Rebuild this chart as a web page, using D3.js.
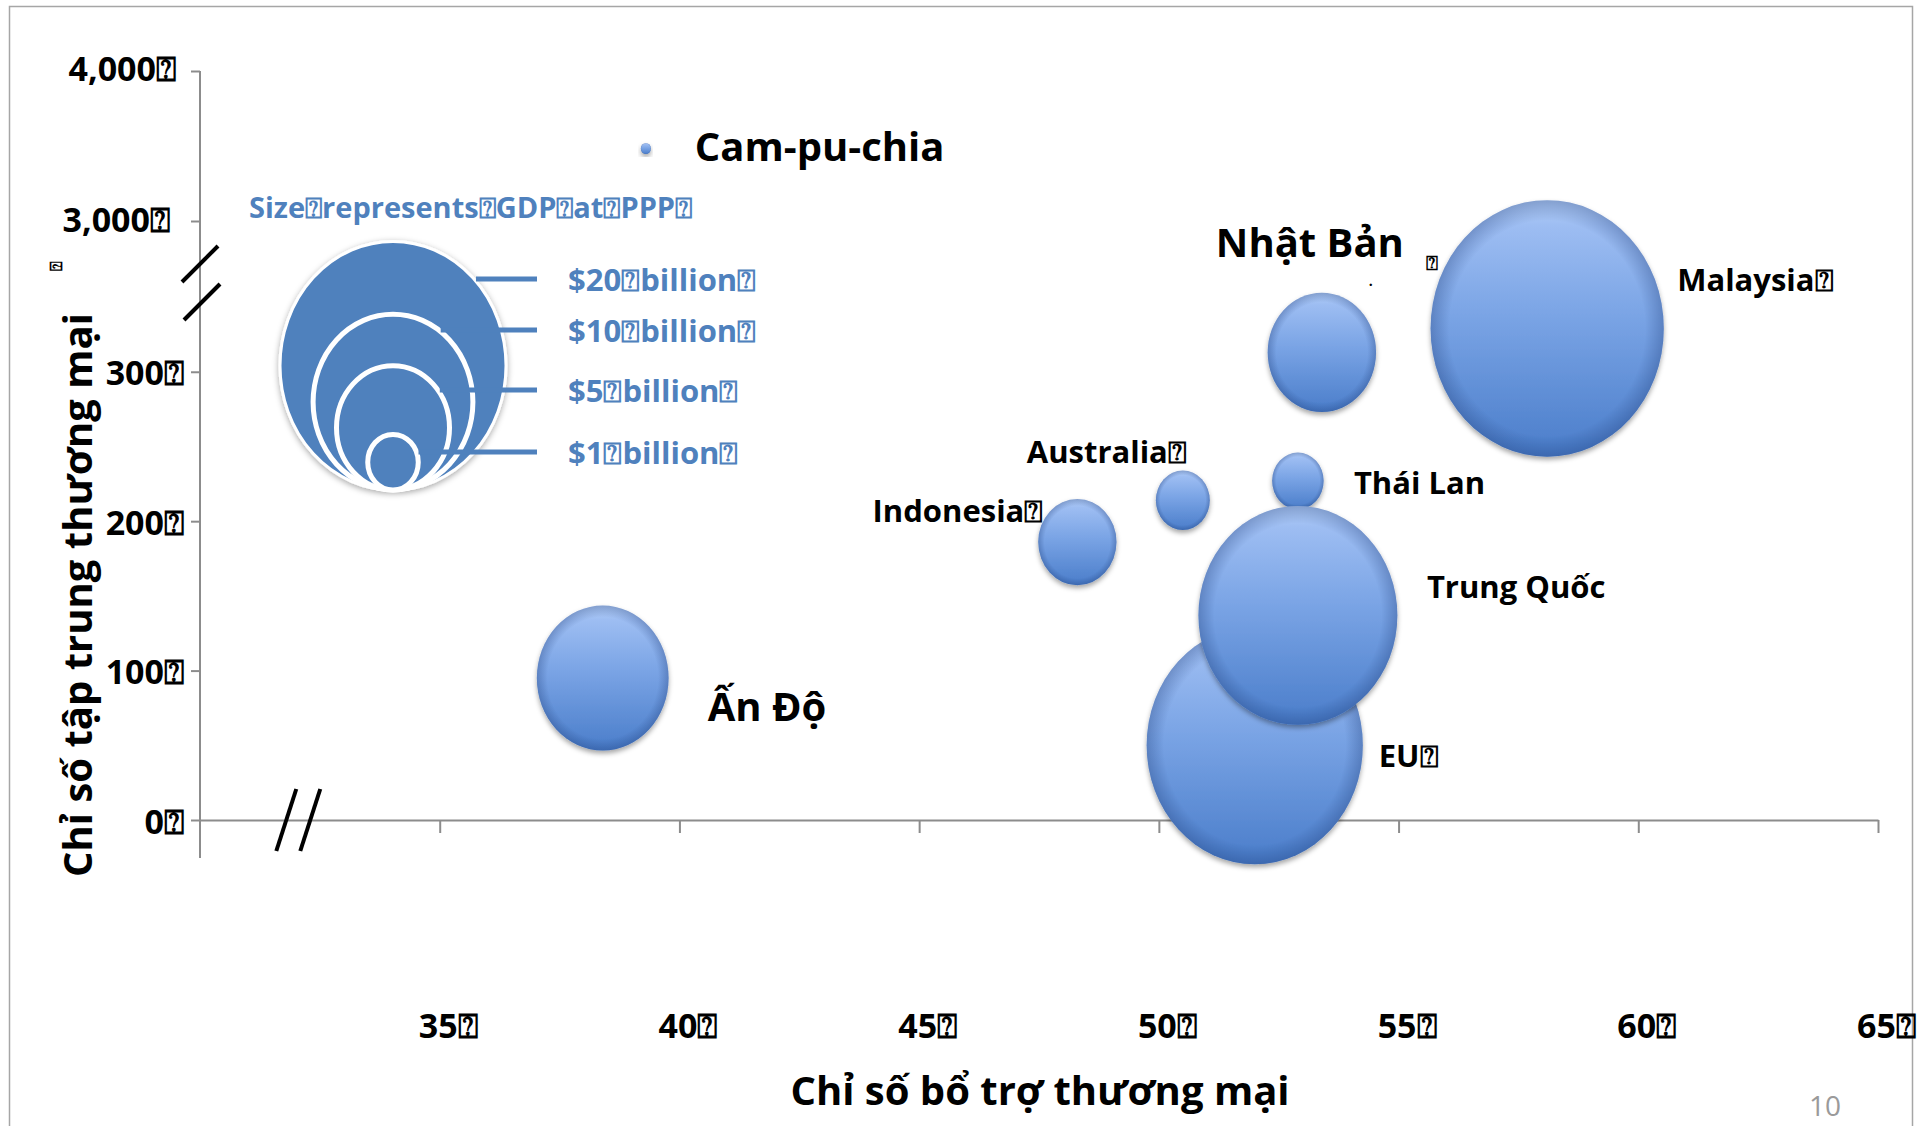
<!DOCTYPE html>
<html>
<head>
<meta charset="utf-8">
<script src="https://cdn.jsdelivr.net/npm/d3@7"></script>
<style>
  html, body { margin: 0; padding: 0; background: #ffffff; }
  svg { display: block; }
  text { font-family: 'Open Sans', 'DejaVu Sans', sans-serif; }
</style>
</head>
<body>
<svg id="chart" width="1925" height="1126"></svg>
<script>
// Placeholder glyph that the slide's text boxes carry in place of spaces
const BOX = "\u2370";

// ---- data ----
const countries       = ["Malaysia", "Nhật Bản", "Thái Lan", "Australia", "Indonesia", "Ấn Độ", "EU", "Trung Quốc", "Cam-pu-chia"];
const countryLabels   = ["Malaysia" + BOX, "Nhật Bản", "Thái Lan", "Australia" + BOX, "Indonesia" + BOX, "Ấn Độ", "EU" + BOX, "Trung Quốc", "Cam-pu-chia"];
const complementarity = [58.1, 53.4, 52.9, 50.5, 48.3, 38.4, 52.0, 52.9, 39.3];   // Chỉ số bổ trợ thương mại
const concentration   = [329, 313, 227, 214, 186, 95, 50, 137, 3483];           // Chỉ số tập trung thương mại
const gdpPPP          = [21.3, 4.6, 1.04, 1.14, 2.4, 6.8, 18.3, 15.5, 0.04];     // bubble size, $ billion

const xTicks = [35, 40, 45, 50, 55, 60, 65];
const yTicks = [0, 100, 200, 300, 3000, 4000];

const legendSizes  = [20, 10, 5, 1];
const legendLabels = ["$20" + BOX + "billion" + BOX, "$10" + BOX + "billion" + BOX, "$5" + BOX + "billion" + BOX, "$1" + BOX + "billion" + BOX];
const legendTitle  = "Size" + BOX + "represents" + BOX + "GDP" + BOX + "at" + BOX + "PPP" + BOX;

const xTitle = "Chỉ số bổ trợ thương mại";
const yTitle = "Chỉ số tập trung thương mại";
const pageNumber = "10";

// ---- layout ----
const labelLayout = {
  "Malaysia":    { dx: 130,  dy: -49,  anchor: "start", size: 31 },
  "Nhật Bản":    { dx: -106, dy: -111, anchor: "start", size: 40 },
  "Thái Lan":    { dx: 56,   dy: 1,    anchor: "start", size: 31 },
  "Australia":   { dx: 4,    dy: -49,  anchor: "end",   size: 31 },
  "Indonesia":   { dx: -34,  dy: -32,  anchor: "end",   size: 31 },
  "Ấn Độ":       { dx: 105,  dy: 27,   anchor: "start", size: 40 },
  "EU":          { dx: 124,  dy: 10,   anchor: "start", size: 31 },
  "Trung Quốc":  { dx: 129,  dy: -29,  anchor: "start", size: 31 },
  "Cam-pu-chia": { dx: 49,   dy: -3,   anchor: "start", size: 40 }
};
// tick-label nudges for the upper (post-break) segment of the value axis
const yLabelShift = { 3000: { x: -30, y: -3 }, 4000: { x: -24, y: -4 } };
const ASPECT = 1.1;          // bubbles are drawn slightly taller than wide
const BLUE = "#4F81BD";

const svg = d3.select("#chart");

// ---- scales ----
const x = d3.scaleLinear().domain([30, 65]).range([200, 1878]);
// broken value axis: lower segment 0–340, gap, upper segment 2900–4000
const y = d3.scaleLinear().domain([0, 340, 2900, 4000]).range([820, 312, 236, 71]);
const r = d3.scaleSqrt().domain([0, 20]).range([0, 113]);

// ---- defs: bubble shading and shadows ----
const defs = svg.append("defs");
const lg = defs.append("linearGradient").attr("id", "bubbleFill")
  .attr("x1", 0).attr("y1", 0).attr("x2", 0).attr("y2", 1);
[["0%", "#b4cff8"], ["10%", "#9dbdf2"], ["45%", "#7aa4e5"], ["100%", "#4a7dca"]]
  .forEach(([o, c]) => lg.append("stop").attr("offset", o).attr("stop-color", c));
const rg = defs.append("radialGradient").attr("id", "bubbleRim")
  .attr("cx", 0.5).attr("cy", 0.5).attr("r", 0.5);
[["0%", "rgba(30,60,120,0)"], ["84%", "rgba(30,60,120,0)"], ["100%", "rgba(30,60,120,0.32)"]]
  .forEach(([o, c]) => rg.append("stop").attr("offset", o).attr("stop-color", c));
defs.append("filter").attr("id", "bubbleShadow")
  .attr("x", "-20%").attr("y", "-20%").attr("width", "140%").attr("height", "140%")
  .append("feDropShadow").attr("dx", 0).attr("dy", 3).attr("stdDeviation", 2.5)
  .attr("flood-color", "#000").attr("flood-opacity", 0.35);
defs.append("filter").attr("id", "legendShadow")
  .attr("x", "-20%").attr("y", "-20%").attr("width", "140%").attr("height", "140%")
  .append("feDropShadow").attr("dx", 0).attr("dy", 2).attr("stdDeviation", 3)
  .attr("flood-color", "#000").attr("flood-opacity", 0.35);

// ---- slide frame ----
svg.append("rect").attr("x", 9.5).attr("y", 6.5).attr("width", 1903).attr("height", 1200)
  .attr("fill", "none").attr("stroke", "#a6a6a6").attr("stroke-width", 1.5);

// ---- axes ----
const axisColor = "#8c8c8c";
const gx = svg.append("g").attr("transform", `translate(0,${y(0)})`)
  .call(d3.axisBottom(x).tickValues(xTicks).tickSize(13).tickSizeOuter(0).tickFormat(d => d + BOX));
gx.select(".domain").attr("stroke", axisColor).attr("stroke-width", 2);
gx.selectAll(".tick line").attr("stroke", axisColor).attr("stroke-width", 2);
gx.selectAll(".tick text")
  .attr("y", 205).attr("dy", null).attr("dx", 8)
  .attr("dominant-baseline", "central")
  .attr("fill", "#000").style("font-size", "34px").style("font-weight", 700)
  .style("font-family", "'Open Sans','DejaVu Sans',sans-serif");

const gy = svg.append("g").attr("transform", `translate(${x(30)},0)`)
  .call(d3.axisLeft(y).tickValues(yTicks).tickSize(9).tickSizeOuter(0).tickFormat(d => d3.format(",")(d) + BOX));
gy.select(".domain").remove();
gy.insert("line", ":first-child").attr("x1", 0).attr("x2", 0)
  .attr("y1", y(4000)).attr("y2", y(0) + 38)
  .attr("stroke", axisColor).attr("stroke-width", 2);
gy.selectAll(".tick line").attr("stroke", axisColor).attr("stroke-width", 2);
gy.selectAll(".tick text")
  .attr("x", d => yLabelShift[d] ? yLabelShift[d].x : -16)
  .attr("y", d => yLabelShift[d] ? yLabelShift[d].y : 0)
  .attr("dy", null)
  .attr("dominant-baseline", "central")
  .attr("fill", "#000").style("font-size", "34px").style("font-weight", 700)
  .style("font-family", "'Open Sans','DejaVu Sans',sans-serif");

// ---- axis break marks ----
const breakMarks = svg.append("g").attr("stroke", "#000").attr("stroke-width", 4).attr("stroke-linecap", "butt");
const yBreakMid = (y(340) + y(2900)) / 2;
[[-10, 0], [28, 2]].forEach(([dy, dx]) => {
  breakMarks.append("line")
    .attr("x1", x(30) - 18 + dx).attr("y1", yBreakMid + dy + 18)
    .attr("x2", x(30) + 18 + dx).attr("y2", yBreakMid + dy - 18);
});
[x(31.8), x(32.3)].forEach(cx => {
  breakMarks.append("line")
    .attr("x1", cx - 10).attr("y1", y(0) + 31)
    .attr("x2", cx + 10).attr("y2", y(0) - 31);
});

// ---- bubbles ----
const rows = countries.map((c, i) => ({
  name: c, label: countryLabels[i], x: complementarity[i], y: concentration[i], size: gdpPPP[i]
}));
const bubbles = svg.append("g");
const bubble = bubbles.selectAll("g").data(rows).join("g")
  .attr("transform", d => `translate(${x(d.x)},${y(d.y)})`);
bubble.append("ellipse")
  .attr("rx", d => r(d.size)).attr("ry", d => r(d.size) * ASPECT)
  .attr("fill", "url(#bubbleFill)").attr("filter", "url(#bubbleShadow)");
bubble.append("ellipse")
  .attr("rx", d => r(d.size)).attr("ry", d => r(d.size) * ASPECT)
  .attr("fill", "url(#bubbleRim)");

// ---- bubble labels ----
svg.append("g").selectAll("text").data(rows).join("text")
  .attr("x", d => x(d.x) + labelLayout[d.name].dx)
  .attr("y", d => y(d.y) + labelLayout[d.name].dy)
  .attr("text-anchor", d => labelLayout[d.name].anchor)
  .attr("dominant-baseline", "central")
  .style("font-size", d => labelLayout[d.name].size + "px")
  .style("font-weight", 700)
  .attr("fill", "#000")
  .text(d => d.label);

// stray marks next to the Nhật Bản label
const jp = rows.find(d => d.name === "Nhật Bản");
svg.append("text").attr("x", x(jp.x) + 49).attr("y", y(jp.y) - 66)
  .attr("text-anchor", "middle")
  .style("font-size", "14px").style("font-weight", 700).text(".");
svg.append("text").attr("x", x(jp.x) + 110).attr("y", y(jp.y) - 90)
  .attr("text-anchor", "middle").attr("dominant-baseline", "central")
  .style("font-size", "20px").style("font-weight", 700).text(BOX);

// ---- size legend ----
const leg = svg.append("g");
const legCx = 393, legBottom = 490, legLabelX = 568;
const legLabelY = [279, 330, 390, 452];
leg.append("text").attr("x", 249).attr("y", 206)
  .attr("dominant-baseline", "central")
  .style("font-size", "29px").style("font-weight", 700).attr("fill", BLUE)
  .text(legendTitle);
leg.selectAll("ellipse").data(legendSizes).join("ellipse")
  .attr("cx", legCx)
  .attr("cy", d => legBottom - r(d) * ASPECT)
  .attr("rx", d => r(d)).attr("ry", d => r(d) * ASPECT)
  .attr("fill", BLUE).attr("stroke", "#fff")
  .attr("stroke-width", (d, i) => i === 0 ? 3 : 5)
  .attr("filter", (d, i) => i === 0 ? "url(#legendShadow)" : null);
leg.selectAll("line").data(legendSizes).join("line")
  .attr("x1", (d, i) => {
    const rx = r(d), ry = rx * ASPECT, cy = legBottom - ry;
    const t = (legLabelY[i] - cy) / ry;
    return legCx + rx * Math.sqrt(Math.max(0, 1 - t * t)) + 2;
  })
  .attr("x2", legLabelX - 31)
  .attr("y1", (d, i) => legLabelY[i]).attr("y2", (d, i) => legLabelY[i])
  .attr("stroke", BLUE).attr("stroke-width", 5);
leg.selectAll("text.item").data(legendLabels).join("text").attr("class", "item")
  .attr("x", legLabelX).attr("y", (d, i) => legLabelY[i])
  .attr("dominant-baseline", "central")
  .style("font-size", "31px").style("font-weight", 700).attr("fill", BLUE)
  .text(d => d);

// ---- axis titles ----
svg.append("text").attr("x", 1040).attr("y", 1089)
  .attr("text-anchor", "middle").attr("dominant-baseline", "central")
  .style("font-size", "40px").style("font-weight", 700).text(xTitle);
svg.append("text").attr("transform", "translate(76,595) rotate(-90)")
  .attr("text-anchor", "middle").attr("dominant-baseline", "central")
  .style("font-size", "40px").style("font-weight", 700).text(yTitle);
svg.append("text").attr("transform", "translate(56,266) rotate(-90)")
  .attr("text-anchor", "middle").attr("dominant-baseline", "central")
  .style("font-size", "16px").style("font-weight", 700).text(BOX);

// ---- page number ----
svg.append("text").attr("x", 1825).attr("y", 1105)
  .attr("text-anchor", "middle").attr("dominant-baseline", "central")
  .style("font-size", "28px").attr("fill", "#9a9a9a").text(pageNumber);
</script>
</body>
</html>
